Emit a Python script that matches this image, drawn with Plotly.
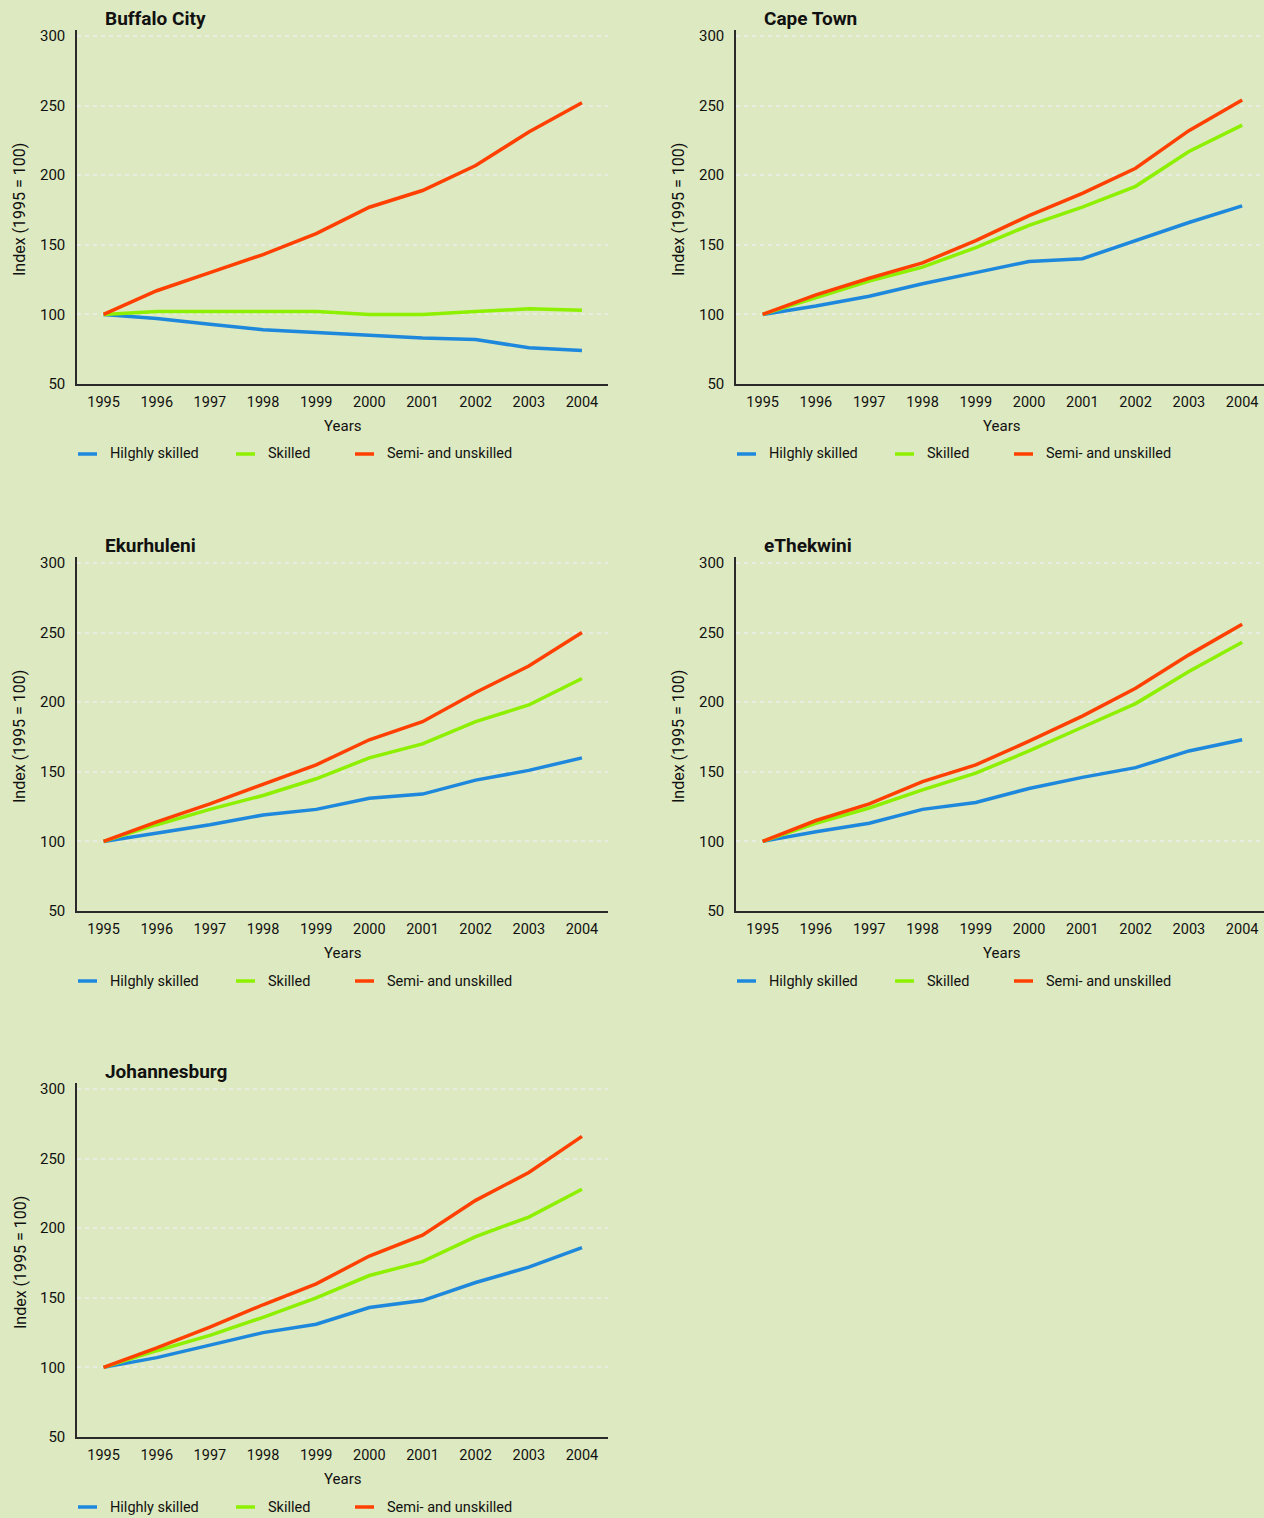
import plotly.graph_objects as go

W, H = 1264, 1518

years = [1995, 1996, 1997, 1998, 1999, 2000, 2001, 2002, 2003, 2004]
series_names = ["Hilghly skilled", "Skilled", "Semi- and unskilled"]
y_ticks = [50, 100, 150, 200, 250, 300]

# Buffalo City
buffalo_high = [100, 97, 93, 89, 87, 85, 83, 82, 76, 74]
buffalo_skilled = [100, 102, 102, 102, 102, 100, 100, 102, 104, 103]
buffalo_semi = [100, 117, 130, 143, 158, 177, 189, 207, 231, 252]

# Cape Town
cape_high = [100, 106, 113, 122, 130, 138, 140, 153, 166, 178]
cape_skilled = [100, 112, 124, 134, 148, 164, 177, 192, 217, 236]
cape_semi = [100, 114, 126, 137, 153, 171, 187, 205, 232, 254]

# Ekurhuleni
ekur_high = [100, 106, 112, 119, 123, 131, 134, 144, 151, 160]
ekur_skilled = [100, 112, 123, 133, 145, 160, 170, 186, 198, 217]
ekur_semi = [100, 114, 127, 141, 155, 173, 186, 207, 226, 250]

# eThekwini
ethek_high = [100, 107, 113, 123, 128, 138, 146, 153, 165, 173]
ethek_skilled = [100, 113, 124, 137, 149, 165, 182, 199, 222, 243]
ethek_semi = [100, 115, 127, 143, 155, 172, 190, 210, 234, 256]

# Johannesburg
jhb_high = [100, 107, 116, 125, 131, 143, 148, 161, 172, 186]
jhb_skilled = [100, 112, 123, 136, 150, 166, 176, 194, 208, 228]
jhb_semi = [100, 114, 129, 145, 160, 180, 195, 220, 240, 266]

cities = ["Buffalo City", "Cape Town", "Ekurhuleni", "eThekwini", "Johannesburg"]
city_data = [
    (buffalo_high, buffalo_skilled, buffalo_semi),
    (cape_high, cape_skilled, cape_semi),
    (ekur_high, ekur_skilled, ekur_semi),
    (ethek_high, ethek_skilled, ethek_semi),
    (jhb_high, jhb_skilled, jhb_semi),
]

colors = ["#1e88dc", "#8cf000", "#ff4000"]
BG = "#dde9c0"
AXC = "#2a2a2a"
FONT = "Roboto, Lato, sans-serif"

# pixel layout of each panel: (axis left px, axis right px, range max)
col_x = [(77, 608, 2004.49), (736, 1264, 2004.41)]
# (axis top px, bottom px at y=50)
row_y = [(30, 384), (557, 911), (1083, 1437)]
pos = [(0, 0), (0, 1), (1, 0), (1, 1), (2, 0)]


def px_x(p):
    return p / W


def px_y(p):
    return 1 - p / H


fig = go.Figure()
layout = dict(
    width=W, height=H,
    paper_bgcolor=BG, plot_bgcolor=BG,
    margin=dict(l=0, r=0, t=0, b=0, pad=0, autoexpand=False),
    showlegend=False,
    font=dict(family=FONT, size=14, color="#111111"),
)
annotations = []
shapes = []

for i, (city, data) in enumerate(zip(cities, city_data)):
    r, c = pos[i]
    xl, xr, xmax = col_x[c]
    yt, yb = row_y[r]
    n = i + 1
    xa = "x" if n == 1 else f"x{n}"
    ya = "y" if n == 1 else f"y{n}"
    xkey = "xaxis" if n == 1 else f"xaxis{n}"
    ykey = "yaxis" if n == 1 else f"yaxis{n}"

    for name, vals, col in zip(series_names, data, colors):
        fig.add_trace(go.Scatter(
            x=years, y=vals, mode="lines", name=name,
            line=dict(color=col, width=3.5),
            xaxis=xa, yaxis=ya, showlegend=False,
            hovertemplate=f"{city}<br>{name}: %{{y}}<extra></extra>",
        ))

    # 300 sits 6px below axis top
    ytop_val = 300 + 6 * 250 / ((yb - yt) - 6)
    layout[xkey] = dict(
        domain=[px_x(xl), px_x(xr)], anchor=ya,
        range=[1994.5, xmax], automargin=False,
        tickmode="array", tickvals=years, ticktext=[str(y) for y in years],
        showgrid=False, zeroline=False,
        showline=True, linecolor=AXC, linewidth=1.5,
        ticks="", ticklabelstandoff=4,
        tickfont=dict(family=FONT, size=14.5, color="#111111"),
        fixedrange=True,
    )
    layout[ykey] = dict(
        domain=[px_y(yb), px_y(yt)], anchor=xa,
        range=[50, ytop_val], automargin=False,
        tickmode="array", tickvals=y_ticks,
        showgrid=True, gridcolor="#e9ece3", griddash="4px,4px", gridwidth=1.5,
        zeroline=False,
        showline=True, linecolor=AXC, linewidth=1.5,
        ticks="", ticklabelstandoff=7,
        tickfont=dict(family=FONT, size=15, color="#111111"),
        fixedrange=True,
    )

    # panel title
    annotations.append(dict(
        text=f"<b>{city}</b>", x=px_x(xl + 26), y=px_y(yt - 12),
        xref="paper", yref="paper", xanchor="left", yanchor="middle",
        showarrow=False, font=dict(family=FONT, size=19, color="#111111"),
    ))
    # y-axis title
    annotations.append(dict(
        text="Index (1995 = 100)", x=px_x(xl - 57), y=px_y((yt + 6 + yb) / 2),
        xref="paper", yref="paper", xanchor="center", yanchor="middle",
        textangle=-90, showarrow=False,
        font=dict(family=FONT, size=16, color="#111111"),
    ))
    # x-axis title
    annotations.append(dict(
        text="Years", x=px_x(xl + 265), y=px_y(yb + 42),
        xref="paper", yref="paper", xanchor="center", yanchor="middle",
        showarrow=False, font=dict(family=FONT, size=15, color="#111111"),
    ))
    # legend
    leg_y = yb + 70
    for off, name, col in zip([1, 159, 278], series_names, colors):
        shapes.append(dict(
            type="line", xref="paper", yref="paper",
            x0=px_x(xl + off), x1=px_x(xl + off + 19),
            y0=px_y(leg_y), y1=px_y(leg_y),
            line=dict(color=col, width=3.5),
        ))
        annotations.append(dict(
            text=name, x=px_x(xl + off + 30), y=px_y(leg_y),
            xref="paper", yref="paper", xanchor="left", yanchor="middle",
            showarrow=False, font=dict(family=FONT, size=14.5, color="#111111"),
        ))

layout["annotations"] = annotations
layout["shapes"] = shapes
fig.update_layout(**layout)

post = (
    "var de=document.documentElement;"
    "de.style.margin='0';de.style.padding='0';de.style.overflow='hidden';"
    "document.body.style.margin='0';document.body.style.padding='0';"
    "document.body.style.overflow='hidden';"
)

fig.write_html(
    "out.html",
    config={"displayModeBar": False},
    post_script=post,
)
